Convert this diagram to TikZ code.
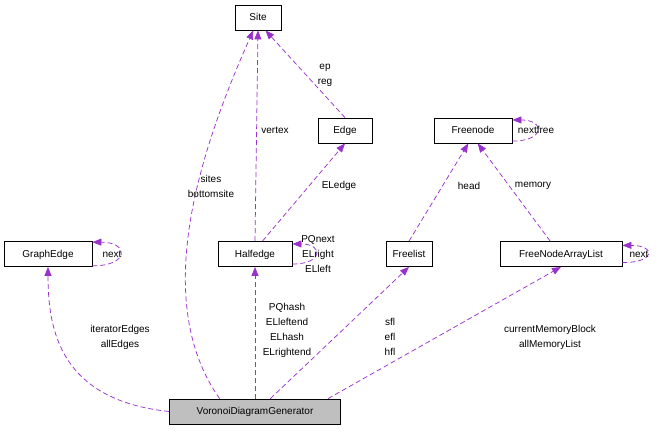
\documentclass[tikz,border=0pt]{standalone}
\usepackage{fontspec}
\setmainfont{Liberation Sans}
\usetikzlibrary{arrows.meta}

\tikzset{every picture/.style={line width=0.75pt}}
\tikzset{
  cls/.style={draw=black, fill=white, inner sep=0pt, minimum height=25, text height=8, text depth=2, font=\fontsize{10}{12}\selectfont},
  rel/.style={draw={rgb,255:red,153;green,50;blue,204}, dashed, dash pattern=on 5pt off 3pt,
    -{Triangle[length=9pt,width=7pt,fill={rgb,255:red,153;green,50;blue,204}]}},
  lbl/.style={align=center, inner sep=0pt, font=\fontsize{10}{15}\selectfont}
}

\begin{document}
\begin{tikzpicture}[x=1pt,y=1pt,yscale=-1]
\useasboundingbox (0,0) rectangle (659,432);

% classes
\node[cls, minimum width=46] (site) at (258,17.5) {Site};
\node[cls, minimum width=54] (edge) at (345,130.5) {Edge};
\node[cls, minimum width=78] (freenode) at (473,130.5) {Freenode};
\node[cls, minimum width=88] (graphedge) at (48,254) {GraphEdge};
\node[cls, minimum width=74] (halfedge) at (255,254) {Halfedge};
\node[cls, minimum width=46] (freelist) at (409,254) {Freelist};
\node[cls, minimum width=122] (fnal) at (561,254) {FreeNodeArrayList};
\node[cls, minimum width=171, fill={rgb,255:red,191;green,191;blue,191}] (vdg) at (255,411.5) {VoronoiDiagramGenerator};

% relations
\draw[rel] (vdg.160) .. controls (150,300) and (200,150) .. (site.250);
\draw[rel] (vdg.west) .. controls (60,400) and (48,330) .. (graphedge.south);
\draw[rel] (vdg.north) -- (halfedge.south);
\draw[rel] (vdg.40) -- (freelist.south);
\draw[rel] (vdg.10) -- (fnal.south);
\draw[rel] (halfedge.north) -- (site.south);
\draw[rel] (halfedge.60) -- (edge.south);
\draw[rel] (edge.north) -- (site.300);
\draw[rel] (freelist.north) -- (freenode.250);
\draw[rel] (fnal.130) -- (freenode.290);
\draw[rel] (graphedge.-15) to[out=0,in=0,looseness=4] (graphedge.15);
\draw[rel] (halfedge.-15) to[out=0,in=0,looseness=4] (halfedge.15);
\draw[rel] (freenode.-15) to[out=0,in=0,looseness=4] (freenode.15);
\draw[rel] (fnal.-8) to[out=0,in=0,looseness=5] (fnal.8);

% labels
\node[lbl] (lsites) at (211,186) {sites\\bottomsite};
\node[lbl] (lge) at (120,337) {iteratorEdges\\allEdges};
\node[lbl] (lhe) at (287,330) {PQhash\\ELleftend\\ELhash\\ELrightend};
\node[lbl] (lfl) at (390,337) {sfl\\efl\\hfl};
\node[lbl] (lfnal) at (550,337) {currentMemoryBlock\\allMemoryList};
\node[lbl] (lvertex) at (275,130) {vertex};
\node[lbl] (ledge) at (339,186) {ELedge};
\node[lbl] (lself) at (318,254) {PQnext\\ELright\\ELleft};
\node[lbl] (lep) at (325,75) {ep\\reg};
\node[lbl] (lhead) at (469,186) {head};
\node[lbl] (lmem) at (533,186) {memory};
\node[lbl] (lnextfree) at (536,130) {nextfree};
\node[lbl] (lnext1) at (639,254) {next};
\node[lbl] (lnext2) at (112,254) {next};
\end{tikzpicture}
\end{document}
